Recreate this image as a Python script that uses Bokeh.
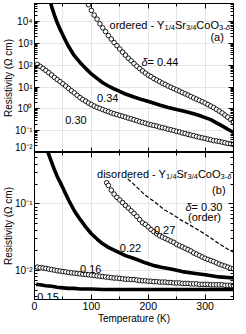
from bokeh.plotting import figure
from bokeh.models import Range1d, LogAxis, LinearAxis, FixedTicker, CustomJSTickFormatter, Label
from bokeh.layouts import column
from bokeh.embed import file_html
from bokeh.resources import INLINE

# ---------------- data ----------------
# (a) ordered
T_044 = [95, 100, 105, 110, 115, 120, 125, 130, 135, 140, 145, 150, 155, 160, 165, 170, 175, 180,
         185, 190, 195, 200, 205, 210, 215, 220, 225, 230, 235, 240, 245, 250, 255, 260, 265, 270,
         275, 280, 285, 290, 295, 300, 305, 310, 315, 320, 325, 330, 335, 340, 345, 350]
R_044 = [6.0e4, 3.3e4, 2.0e4, 1.3e4, 7.9e3, 5.2e3, 3.5e3, 2.3e3, 1.6e3, 1.1e3, 790, 560, 400, 290,
         210, 160, 120, 91, 71, 55, 44, 35, 30, 24.5, 21, 17.8, 15.1, 13.2, 11.2, 9.8, 8.5, 7.4,
         6.5, 5.6, 4.9, 4.3, 3.7, 3.2, 2.8, 2.45, 2.14, 1.86, 1.58, 1.35, 1.15, 0.95, 0.79, 0.65,
         0.52, 0.42, 0.32, 0.25]

T_034 = [27, 30, 35, 40, 45, 50, 55, 60, 70, 80, 90, 100, 110, 120, 130, 140, 150, 160, 175, 190,
         205, 220, 235, 250, 265, 280, 290, 300, 310, 320, 330, 340, 350]
R_034 = [1.0e5, 5.0e4, 2.0e4, 8.9e3, 4.5e3, 2.4e3, 1.3e3, 720, 275, 135, 72, 40, 25, 15.8, 11.2,
         8.3, 6.3, 4.8, 3.5, 2.6, 2.0, 1.5, 1.17, 0.93, 0.76, 0.60, 0.50, 0.40, 0.32, 0.23, 0.166,
         0.117, 0.083]

T_030o = [5, 10, 15, 20, 25, 30, 35, 40, 45, 50, 55, 60, 65, 70, 75, 80, 85, 90, 95, 100, 105, 110,
          115, 120, 125, 130, 135, 140, 145, 150, 155, 160, 165, 170, 175, 180, 185, 190, 195, 200,
          205, 210, 215, 220, 225, 230, 235, 240, 245, 250, 255, 260, 265, 270, 275, 280, 285, 290,
          295, 300, 305, 310, 315, 320, 325, 330, 335, 340, 345, 350]
R_030o = [110, 89, 72, 58, 46, 36, 28, 22, 17.8, 14.1, 11.2, 8.7, 6.8, 5.4, 4.2, 3.3, 2.7, 2.24,
          1.86, 1.58, 1.35, 1.17, 1.05, 0.93, 0.83, 0.74, 0.66, 0.60, 0.55, 0.50, 0.46, 0.42, 0.38,
          0.35, 0.32, 0.29, 0.26, 0.24, 0.22, 0.20, 0.186, 0.174, 0.162, 0.148, 0.138, 0.129, 0.117,
          0.110, 0.102, 0.093, 0.087, 0.079, 0.074, 0.068, 0.063, 0.059, 0.054, 0.050, 0.047, 0.044,
          0.041, 0.038, 0.035, 0.034, 0.032, 0.030, 0.028, 0.026, 0.025, 0.023]

# (b) disordered
T_027 = [127, 130, 135, 140, 145, 150, 155, 160, 165, 170, 175, 180, 185, 190, 195, 200, 205, 210,
         215, 220, 225, 230, 235, 240, 245, 250, 255, 260, 265, 270, 275, 280, 285, 290, 295, 300,
         305, 310, 315, 320, 325, 330, 335, 340, 345, 350]
R_027 = [0.209, 0.191, 0.162, 0.141, 0.126, 0.115, 0.105, 0.095, 0.087, 0.079, 0.072, 0.065, 0.058,
         0.052, 0.049, 0.045, 0.041, 0.038, 0.0355, 0.0331, 0.0316, 0.0302, 0.0288, 0.0275, 0.0263,
         0.0245, 0.0234, 0.0224, 0.0214, 0.0204, 0.0195, 0.0182, 0.0174, 0.0166, 0.0158, 0.0151,
         0.0145, 0.0140, 0.0135, 0.0129, 0.0123, 0.0119, 0.0115, 0.0111, 0.0107, 0.0105]

T_022 = [22, 25, 30, 35, 40, 45, 50, 55, 60, 70, 80, 90, 100, 110, 120, 130, 140, 150, 160, 170,
         180, 195, 210, 225, 240, 260, 280, 300, 325, 350]
R_022 = [0.68, 0.56, 0.43, 0.33, 0.26, 0.214, 0.174, 0.141, 0.115, 0.079, 0.059, 0.045, 0.0355,
         0.0295, 0.025, 0.0221, 0.020, 0.0182, 0.0166, 0.0155, 0.0145, 0.0129, 0.0117, 0.0110,
         0.0104, 0.0095, 0.0090, 0.0085, 0.0079, 0.0076]

T_016 = [5, 10, 15, 20, 25, 30, 35, 40, 45, 50, 55, 60, 65, 70, 75, 80, 85, 90, 95, 100, 105, 110,
         115, 120, 125, 130, 135, 140, 145, 150, 155, 160, 165, 170, 175, 180, 185, 190, 195, 200,
         205, 210, 215, 220, 225, 230, 235, 240, 245, 250, 255, 260, 265, 270, 275, 280, 285, 290,
         295, 300, 305, 310, 315, 320, 325, 330, 335, 340, 345, 350]
R_016 = [0.0111, 0.0109, 0.0108, 0.0106, 0.0104, 0.0102, 0.0100, 0.0098, 0.0097, 0.0095, 0.0094,
         0.0092, 0.0091, 0.0090, 0.0089, 0.0088, 0.0087, 0.0086, 0.0085, 0.0084, 0.0083, 0.0082,
         0.0081, 0.0080, 0.0079, 0.0078, 0.0077, 0.0076, 0.0076, 0.0075, 0.0074, 0.0073, 0.0073,
         0.0072, 0.0072, 0.0071, 0.0070, 0.0069, 0.0069, 0.0068, 0.0068, 0.0067, 0.0067, 0.0066,
         0.0066, 0.0066, 0.0065, 0.0065, 0.0064, 0.0064, 0.0064, 0.0063, 0.0063, 0.0063, 0.0062,
         0.0062, 0.0062, 0.0061, 0.0061, 0.0061, 0.0061, 0.0060, 0.0060, 0.0060, 0.0060, 0.0060,
         0.0059, 0.0059, 0.0059, 0.0059]

T_015 = [3, 10, 20, 30, 40, 50, 60, 70, 80, 100, 120, 150, 200, 250, 300, 350]
R_015 = [0.0061, 0.0060, 0.0058, 0.0057, 0.0055, 0.0054, 0.0053, 0.0053, 0.0052, 0.0052, 0.0051,
         0.0051, 0.0051, 0.0051, 0.0051, 0.0051]

T_030d = [164, 180, 195, 210, 229, 240, 258, 270, 291, 300, 314, 325, 343, 350]
R_030d = [0.24, 0.18, 0.135, 0.110, 0.081, 0.072, 0.057, 0.050, 0.039, 0.035, 0.029, 0.025, 0.020,
          0.0186]

# ticks
X_TICKS = [0, 100, 200, 300]
X_TICK_LABELS = ["0", "100", "200", "300"]
X_MINOR = [50, 150, 250, 350]
TOP_Y_TICKS = [1e-2, 1e-1, 1e0, 1e1, 1e2, 1e3, 1e4]
TOP_Y_LABELS = ["10⁻²", "10⁻¹", "10⁰", "10¹", "10²", "10³", "10⁴"]
BOT_Y_TICKS = [1e-2, 1e-1]
BOT_Y_LABELS = ["10⁻²", "10⁻¹"]

FONT = "Liberation Sans"
W = {' ': 278, '-': 333, '/': 278, '(': 333, ')': 333, '=': 584, '.': 278, 'Y': 667, 'S': 667,
     'C': 722, 'O': 778, 'a': 556, 'b': 556, 'd': 556, 'e': 556, 'i': 222, 'l': 222, 'o': 556,
     'r': 333, 's': 500, 't': 278, 'c': 500, 'n': 556, 'δ': 556}


def minor_log(lo_exp, hi_exp):
    return [k * 10.0 ** e for e in range(lo_exp, hi_exp + 1) for k in range(2, 10)]


def make_fmt(vals, txt):
    return CustomJSTickFormatter(args=dict(vals=vals, txt=txt), code="""
const i = vals.findIndex(v => Math.abs(Math.log10(Math.abs(v) + 1e-12) - Math.log10(Math.abs(tick) + 1e-12)) < 1e-6);
return i < 0 ? "" : txt[i];
""")


def blank_fmt():
    return CustomJSTickFormatter(code='return "";')


def style_axis(ax, labels):
    ax.major_tick_in = 5
    ax.major_tick_out = 0
    ax.minor_tick_in = 3
    ax.minor_tick_out = 0
    ax.axis_line_color = "black"
    ax.major_tick_line_color = "black"
    ax.minor_tick_line_color = "black"
    ax.major_label_text_font = FONT
    ax.major_label_text_color = "black"
    if labels:
        ax.major_label_text_font_size = "10.5px"
        ax.major_label_standoff = 2
    else:
        ax.major_label_text_font_size = "0px"
        ax.major_label_standoff = 0


def make_fig(height, y_range, y_ticks, y_labels, y_minor, bottom_labels, mb_top, mb_bottom):
    p = figure(width=237, height=height, x_range=Range1d(0, 350), y_range=y_range,
               y_axis_type="log", x_axis_location=None, y_axis_location=None,
               toolbar_location=None, output_backend="svg",
               min_border_left=20, min_border_right=4, min_border_top=mb_top,
               min_border_bottom=mb_bottom)
    p.outline_line_color = "black"
    p.outline_line_width = 1
    p.background_fill_color = "white"
    p.border_fill_color = "white"
    ly = LogAxis(ticker=FixedTicker(ticks=y_ticks, minor_ticks=y_minor),
                 formatter=make_fmt(y_ticks, y_labels))
    style_axis(ly, True)
    ly.major_label_text_font_size = "10px"
    ly.major_label_standoff = 2
    ly.axis_label = "Resistivity (Ω cm)"
    ly.axis_label_text_font = FONT
    ly.axis_label_text_font_style = "normal"
    ly.axis_label_text_font_size = "10px"
    ly.axis_label_text_color = "black"
    ly.axis_label_standoff = -2
    p.add_layout(ly, "left")
    ry = LogAxis(ticker=FixedTicker(ticks=y_ticks, minor_ticks=y_minor), formatter=blank_fmt())
    style_axis(ry, False)
    p.add_layout(ry, "right")
    bx = LinearAxis(ticker=FixedTicker(ticks=X_TICKS, minor_ticks=X_MINOR),
                    formatter=make_fmt(X_TICKS, X_TICK_LABELS) if bottom_labels else blank_fmt())
    style_axis(bx, bottom_labels)
    if bottom_labels:
        bx.axis_label = "Temperature (K)"
        bx.axis_label_text_font = FONT
        bx.axis_label_text_font_style = "normal"
        bx.axis_label_text_font_size = "10px"
        bx.axis_label_standoff = 0
        bx.axis_label_text_color = "black"
    p.add_layout(bx, "below")
    tx = LinearAxis(ticker=FixedTicker(ticks=X_TICKS, minor_ticks=X_MINOR), formatter=blank_fmt())
    style_axis(tx, False)
    p.add_layout(tx, "above")
    return p


def text_w(s, size):
    return sum(W.get(ch, 556) for ch in s) * size / 1000.0


def rich_label(p, x, y, pieces, align="left", size=11.0):
    sub = size * 0.68
    sizes = [sub if "s" in k else size for _, k in pieces]
    widths = [text_w(t, s) for (t, _), s in zip(pieces, sizes)]
    total = sum(widths)
    off = {"left": 0.0, "right": -total, "center": -total / 2.0}[align]
    for (t, k), s, w in zip(pieces, sizes, widths):
        p.add_layout(Label(x=x, y=y, x_offset=off, y_offset=(-2.5 if "s" in k else 0),
                           text=t, text_font=FONT, text_font_size="%.1fpx" % s,
                           text_font_style=("italic" if "i" in k else "normal"),
                           text_color="black", text_align="left", text_baseline="alphabetic"))
        off += w


CIRCLE = dict(marker="circle", size=4.6, line_color="black", line_width=0.9, fill_color="white")

# ---------------- top panel (a) ----------------
top = make_fig(152, Range1d(1e-2, 6.8e4), TOP_Y_TICKS, TOP_Y_LABELS, minor_log(-2, 4), False, 3, 0)
top.line(T_034, R_034, line_width=3.6, line_color="black")
top.scatter(T_044, R_044, **CIRCLE)
top.scatter(T_030o, R_030o, **CIRCLE)
FORMULA = [("Sr", "n"), ("3/4", "s"), ("CoO", "n"), ("3-", "s"), ("δ", "si")]
rich_label(top, 132, 6900, [("ordered - Y", "n"), ("1/4", "s")] + FORMULA)
rich_label(top, 333, 1900, [("(a)", "n")], align="right")
rich_label(top, 188, 135, [("δ", "i"), (" = 0.44", "n")])
rich_label(top, 110, 3.0, [("0.34", "n")])
rich_label(top, 54, 0.32, [("0.30", "n")])

# ---------------- bottom panel (b) ----------------
bot = make_fig(174, Range1d(0.0036, 0.6), BOT_Y_TICKS, BOT_Y_LABELS, minor_log(-3, -1), True, 0, 25)
bot.line(T_022, R_022, line_width=3.6, line_color="black")
bot.line(T_015, R_015, line_width=3.6, line_color="black")
bot.line(T_030d, R_030d, line_width=1.2, line_color="black", line_dash="4 2")
bot.scatter(T_027, R_027, **CIRCLE)
bot.scatter(T_016, R_016, **CIRCLE)
rich_label(bot, 110, 0.28, [("disordered - Y", "n"), ("1/4", "s")] + FORMULA)
rich_label(bot, 336, 0.162, [("(b)", "n")], align="right")
rich_label(bot, 336, 0.090, [("δ", "i"), (" = 0.30", "n")], align="right")
rich_label(bot, 299, 0.064, [("(order)", "n")], align="center")
rich_label(bot, 210, 0.0405, [("0.27", "n")])
rich_label(bot, 150, 0.0218, [("0.22", "n")])
rich_label(bot, 80, 0.0103, [("0.16", "n")])
rich_label(bot, 5, 0.0039, [("0.15", "n")])

layout = column(top, bot, spacing=0)
open("out.html", "w").write(file_html(layout, INLINE, title="Resistivity"))
